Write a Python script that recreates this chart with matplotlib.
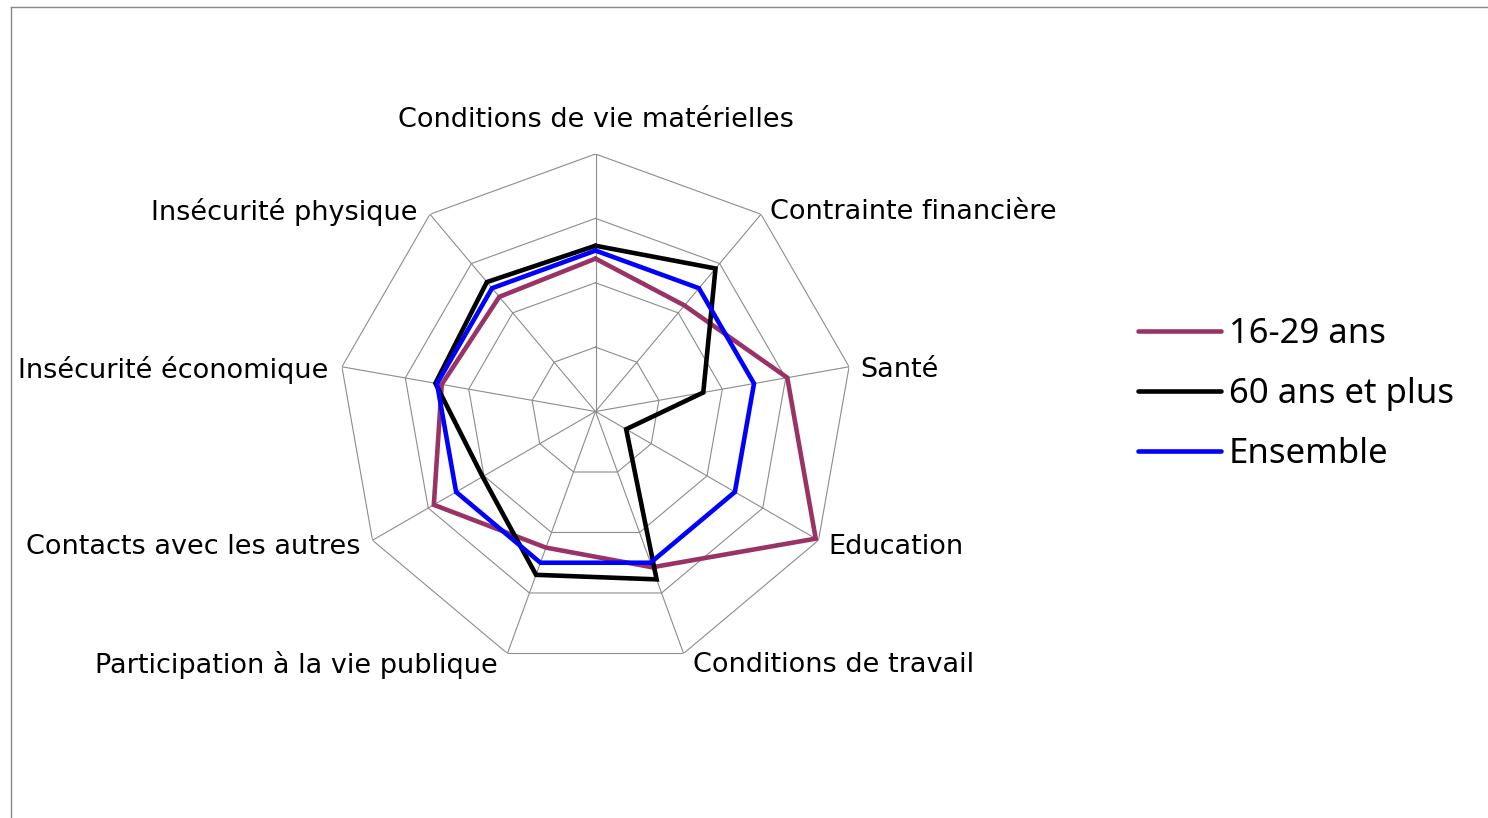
import numpy as np
import matplotlib
matplotlib.use('Agg')
import matplotlib.pyplot as plt
from matplotlib.lines import Line2D

# Axes du radar (sens horaire, depuis le haut)
categories = ['Conditions de vie matérielles', 'Contrainte financière', 'Santé',
              'Education', 'Conditions de travail', 'Participation à la vie publique',
              'Contacts avec les autres', 'Insécurité économique', 'Insécurité physique']
jeunes = [95, 86, 121, 158, 103, 90, 116, 97, 93]        # 16-29 ans
seniors = [103, 116, 68, 22, 111, 108, 81, 101, 105]     # 60 ans et plus
ensemble = [100, 100, 100, 100, 100, 100, 100, 100, 100]  # Ensemble
series_labels = ['16-29 ans', '60 ans et plus', 'Ensemble']
rings = [40, 80, 120, 160]

W, H = 1488, 818
plt.rcParams['font.family'] = ['Noto Sans', 'DejaVu Sans']
fig = plt.figure(figsize=(W / 100, H / 100), dpi=100)

# cadre gris (haut et gauche)
fig.add_artist(Line2D([11 / W, 1], [1 - 7 / H, 1 - 7 / H], color='#888888', lw=1))
fig.add_artist(Line2D([11 / W, 11 / W], [0, 1 - 7 / H], color='#888888', lw=1))

cx, cy, R = 595.5, 411.5, 257.5
ax = fig.add_axes([(cx - R) / W, (H - cy - R) / H, 2 * R / W, 2 * R / H], projection='polar')
ax.set_theta_offset(np.pi / 2)
ax.set_theta_direction(-1)
ax.set_ylim(0, rings[-1])
ax.grid(False)
ax.spines['polar'].set_visible(False)
ax.set_xticks([])
ax.set_yticks([])
ax.patch.set_alpha(0)

n = len(categories)
angles = np.arange(n) * 2 * np.pi / n
closed = np.append(angles, angles[0])

# grille polygonale
for r in rings:
    ax.plot(closed, [r] * (n + 1), color='#8c8c8c', lw=0.8, zorder=1)
for a in angles:
    ax.plot([a, a], [0, rings[-1]], color='#8c8c8c', lw=0.8, zorder=1)

colors = ['#993366', 'black', '#0000ff']
handles = []
for vals, c, lab in zip([jeunes, seniors, ensemble], colors, series_labels):
    v = np.append(vals, vals[0])
    h, = ax.plot(closed, v, color=c, lw=3.3, label=lab, zorder=3,
                 solid_joinstyle='miter', solid_capstyle='round')
    handles.append(h)

# étiquettes des axes
offsets = [(0, 34, 'center'), (9, 2, 'left'), (11, -3, 'left'), (10, -7, 'left'),
           (9, -12, 'left'), (-10, -12, 'right'), (-12, -7, 'right'),
           (-14, -3, 'right'), (-12, 2, 'right')]
for a, lab, (dx, dy, ha) in zip(angles, categories, offsets):
    ax.annotate(lab, xy=(a, rings[-1]), xytext=(dx, dy), textcoords='offset pixels',
                ha=ha, va='center', fontsize=19.5, family='DejaVu Sans',
                annotation_clip=False)

fs_leg = 25
fig.legend(handles=handles, loc='center left', bbox_to_anchor=(1138 / W, 1 - 394 / H),
           frameon=False, fontsize=fs_leg, borderpad=0, handlelength=2.4,
           handletextpad=0.22, labelspacing=0.75, borderaxespad=0)

fig.savefig('out.png', dpi=100)
